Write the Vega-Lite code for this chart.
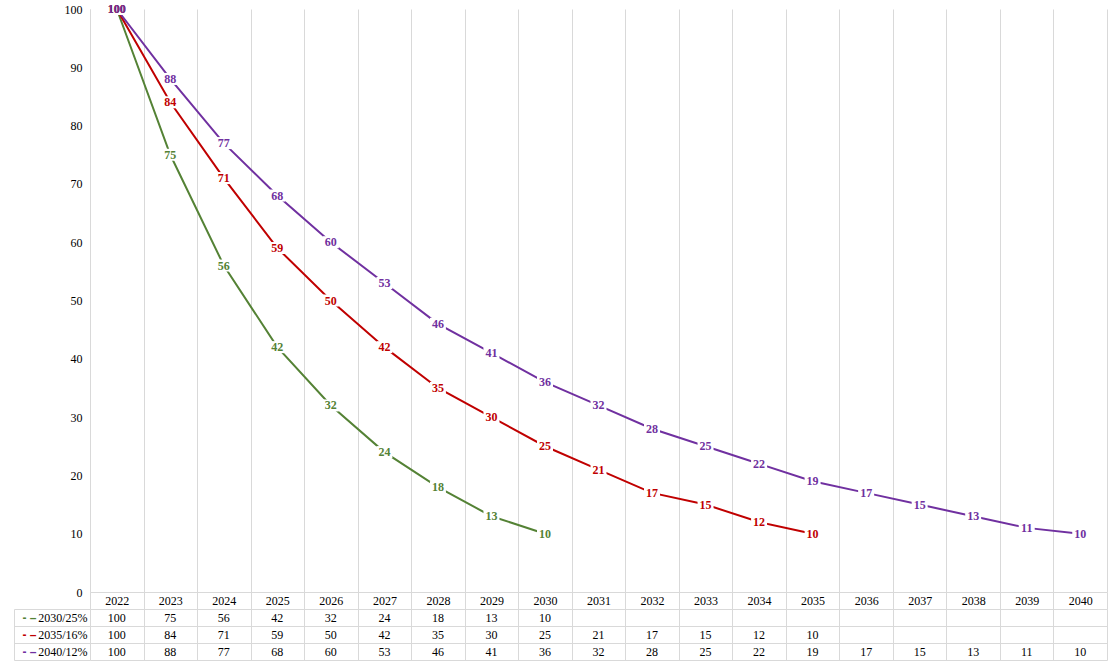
{
  "$schema": "https://vega.github.io/schema/vega-lite/v6.json",
  "background": "white",
  "padding": {"left": 13, "top": 3, "right": 9, "bottom": 3},
  "config": {
    "font": "Liberation Serif",
    "view": {"stroke": null},
    "axis": {"labelFont": "Liberation Serif", "labelFontSize": 12, "labelColor": "black", "title": null},
    "text": {"font": "Liberation Serif"}
  },
  "datasets": {
    "d": [
      {"year": "2022", "series": "2030/25%", "value": 100},
      {"year": "2023", "series": "2030/25%", "value": 75},
      {"year": "2024", "series": "2030/25%", "value": 56},
      {"year": "2025", "series": "2030/25%", "value": 42},
      {"year": "2026", "series": "2030/25%", "value": 32},
      {"year": "2027", "series": "2030/25%", "value": 24},
      {"year": "2028", "series": "2030/25%", "value": 18},
      {"year": "2029", "series": "2030/25%", "value": 13},
      {"year": "2030", "series": "2030/25%", "value": 10},
      {"year": "2022", "series": "2035/16%", "value": 100},
      {"year": "2023", "series": "2035/16%", "value": 84},
      {"year": "2024", "series": "2035/16%", "value": 71},
      {"year": "2025", "series": "2035/16%", "value": 59},
      {"year": "2026", "series": "2035/16%", "value": 50},
      {"year": "2027", "series": "2035/16%", "value": 42},
      {"year": "2028", "series": "2035/16%", "value": 35},
      {"year": "2029", "series": "2035/16%", "value": 30},
      {"year": "2030", "series": "2035/16%", "value": 25},
      {"year": "2031", "series": "2035/16%", "value": 21},
      {"year": "2032", "series": "2035/16%", "value": 17},
      {"year": "2033", "series": "2035/16%", "value": 15},
      {"year": "2034", "series": "2035/16%", "value": 12},
      {"year": "2035", "series": "2035/16%", "value": 10},
      {"year": "2022", "series": "2040/12%", "value": 100},
      {"year": "2023", "series": "2040/12%", "value": 88},
      {"year": "2024", "series": "2040/12%", "value": 77},
      {"year": "2025", "series": "2040/12%", "value": 68},
      {"year": "2026", "series": "2040/12%", "value": 60},
      {"year": "2027", "series": "2040/12%", "value": 53},
      {"year": "2028", "series": "2040/12%", "value": 46},
      {"year": "2029", "series": "2040/12%", "value": 41},
      {"year": "2030", "series": "2040/12%", "value": 36},
      {"year": "2031", "series": "2040/12%", "value": 32},
      {"year": "2032", "series": "2040/12%", "value": 28},
      {"year": "2033", "series": "2040/12%", "value": 25},
      {"year": "2034", "series": "2040/12%", "value": 22},
      {"year": "2035", "series": "2040/12%", "value": 19},
      {"year": "2036", "series": "2040/12%", "value": 17},
      {"year": "2037", "series": "2040/12%", "value": 15},
      {"year": "2038", "series": "2040/12%", "value": 13},
      {"year": "2039", "series": "2040/12%", "value": 11},
      {"year": "2040", "series": "2040/12%", "value": 10}
    ]
  },
  "bounds": "flush",
  "spacing": 17,
  "vconcat": [
    {
      "width": 1017,
      "height": 583,
      "data": {"name": "d"},
      "encoding": {
        "x": {
          "field": "year", "type": "ordinal",
          "scale": {"domain": ["2022","2023","2024","2025","2026","2027","2028","2029","2030","2031","2032","2033","2034","2035","2036","2037","2038","2039","2040"], "paddingInner": 0, "paddingOuter": 0},
          "axis": {"labelAngle": 0, "labelFont": "Liberation Serif", "labelFontSize": 12, "tickBand": "extent", "grid": true, "gridColor": "#D9D9D9", "tickColor": "#D9D9D9", "tickSize": 17, "labelPadding": -14, "domainColor": "#D9D9D9", "labelBaseline": "top"}
        },
        "y": {
          "field": "value", "type": "quantitative",
          "scale": {"domain": [0, 100], "nice": false, "zero": true},
          "axis": {"values": [0,10,20,30,40,50,60,70,80,90,100], "labelFont": "Liberation Serif", "labelFontSize": 12, "ticks": false, "grid": false, "labelPadding": 8, "domainColor": "#D9D9D9"}
        },
        "color": {
          "field": "series", "type": "nominal",
          "scale": {"domain": ["2030/25%", "2035/16%", "2040/12%"], "range": ["#548235", "#C00000", "#7030A0"]},
          "legend": null
        }
      },
      "layer": [
        {"mark": {"type": "line", "strokeWidth": 2}},
        {"mark": {"type": "point", "shape": "M-1,-0.75H1V0.75H-1Z", "size": 256, "filled": true, "opacity": 1, "strokeWidth": 0}, "encoding": {"color": {"value": "white"}}},
        {"mark": {"type": "text", "font": "Liberation Serif", "fontWeight": "bold", "fontSize": 12, "baseline": "middle"}, "encoding": {"text": {"field": "value", "type": "quantitative"}}}
      ]
    },
    {
      "width": 1017,
      "height": 51,
      "data": {"name": "d"},
      "encoding": {
        "x": {
          "field": "year", "type": "ordinal",
          "scale": {"domain": ["2022","2023","2024","2025","2026","2027","2028","2029","2030","2031","2032","2033","2034","2035","2036","2037","2038","2039","2040"], "paddingInner": 0, "paddingOuter": 0},
          "axis": {"labels": false, "ticks": false, "domain": false, "grid": true, "tickBand": "extent", "gridColor": "#D9D9D9"}
        },
        "y": {
          "field": "series", "type": "nominal",
          "scale": {"domain": ["2030/25%", "2035/16%", "2040/12%"], "paddingInner": 0, "paddingOuter": 0}
        }
      },
      "resolve": {"axis": {"y": "independent"}},
      "layer": [
        {
          "mark": {"type": "text", "font": "Liberation Serif", "fontSize": 12, "color": "black", "baseline": "middle"},
          "encoding": {
            "text": {"field": "value", "type": "quantitative"},
            "y": {
              "field": "series", "type": "nominal",
              "scale": {"domain": ["2030/25%", "2035/16%", "2040/12%"], "paddingInner": 0, "paddingOuter": 0},
              "axis": {"orient": "left", "labelFont": "Liberation Serif", "labelFontSize": 12, "grid": true, "gridColor": "#D9D9D9", "tickBand": "extent", "ticks": true, "tickSize": 76, "tickColor": "#D9D9D9", "labelPadding": -73, "domain": false}
            }
          }
        },
        {
          "mark": {"type": "text", "fontSize": 12, "opacity": 0},
          "encoding": {
            "text": {"field": "value", "type": "quantitative"},
            "y": {
              "field": "series", "type": "nominal",
              "scale": {"domain": ["2030/25%", "2035/16%", "2040/12%"], "paddingInner": 0, "paddingOuter": 0},
              "axis": {
                "orient": "left", "offset": 76, "grid": false, "ticks": false, "domain": true, "domainColor": "#D9D9D9",
                "labelPadding": -22, "labelFont": "Liberation Sans", "labelFontSize": 12, "labelFontWeight": "bold",
                "labelExpr": "'-  \u2013'",
                "labelColor": {
                  "condition": [
                    {"test": "datum.value === '2030/25%'", "value": "#548235"},
                    {"test": "datum.value === '2035/16%'", "value": "#C00000"}
                  ],
                  "value": "#7030A0"
                }
              }
            }
          }
        }
      ]
    }
  ]
}
